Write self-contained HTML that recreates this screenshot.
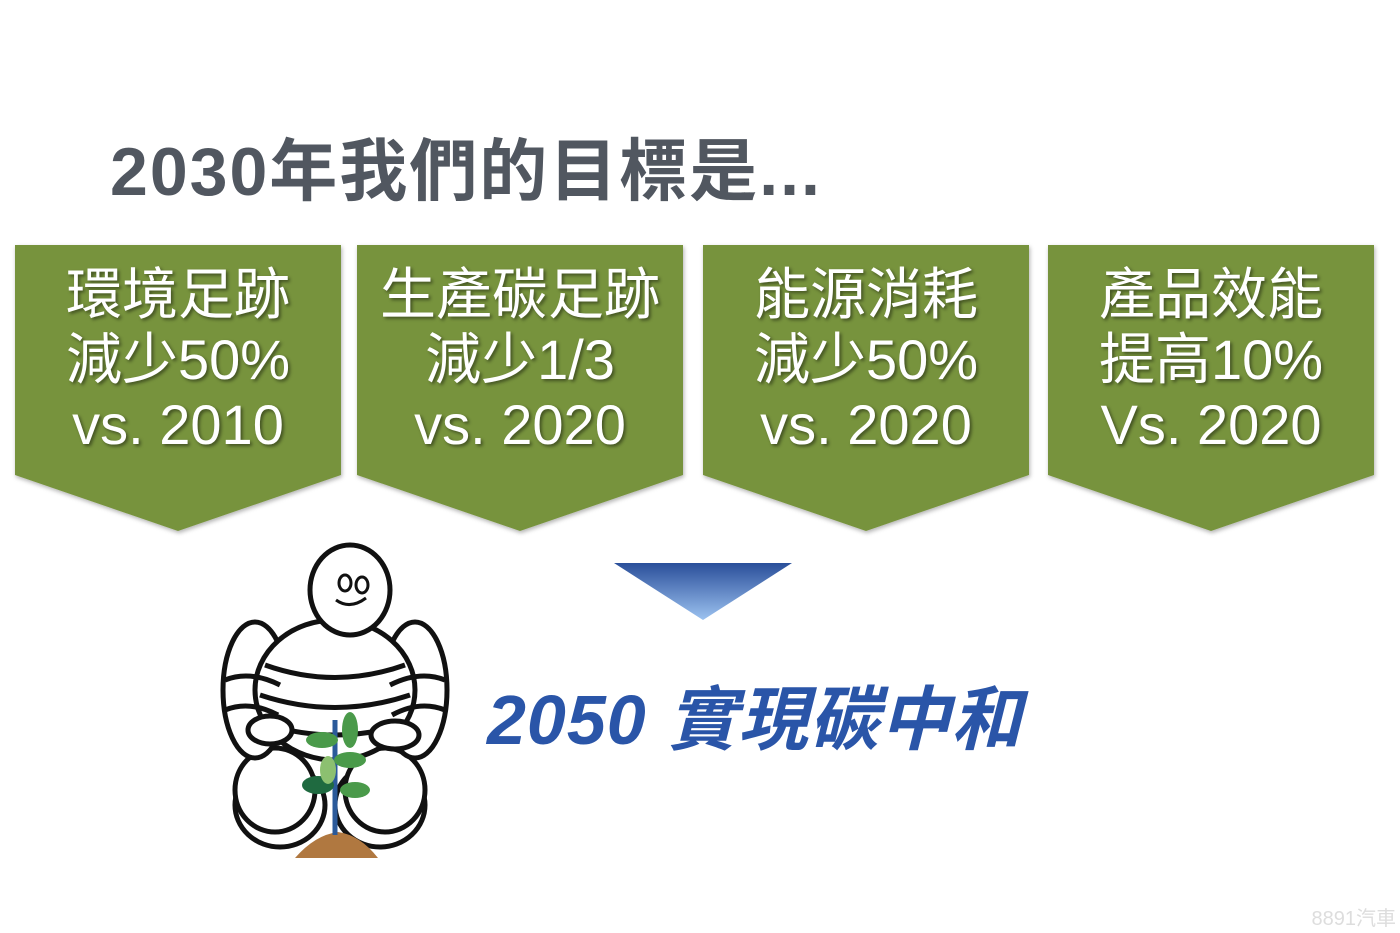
<!DOCTYPE html>
<html><head><meta charset="utf-8"><style>
body{margin:0;width:1400px;height:933px;background:#fff;position:relative;overflow:hidden;font-family:"Liberation Sans","Noto Sans CJK TC",sans-serif}
.t{position:absolute;left:110px;top:116px;font-size:68px;color:#515760;font-weight:bold;letter-spacing:2px}
.tx{position:absolute;left:0;width:326px;top:262px;text-align:center;color:#fff;font-size:56px;line-height:65px;text-shadow:2px 2px 3px rgba(0,0,0,.45)}
.g{position:absolute;left:487px;top:664px;font-size:70px;font-style:italic;font-weight:bold;color:#2a55a8;letter-spacing:1px}
.w{position:absolute;right:4px;bottom:2px;color:#ddd;font-size:20px}
</style></head><body>
<div class="t">2030年我們的目標是...</div>
<svg width="1400" height="640" style="position:absolute;left:0;top:0">
<defs><linearGradient id="bl" x1="0" y1="0" x2="0" y2="1"><stop offset="0" stop-color="#2a4f9a"/><stop offset="1" stop-color="#9cc2f0"/></linearGradient>
<filter id="sh"><feDropShadow dx="1" dy="2" stdDeviation="2" flood-opacity=".3"/></filter></defs>
<g fill="#77933c" filter="url(#sh)">
<polygon points="15,245 341,245 341,475 178,531 15,475"/>
<polygon points="357,245 683,245 683,475 520,531 357,475"/>
<polygon points="703,245 1029,245 1029,475 866,531 703,475"/>
<polygon points="1048,245 1374,245 1374,475 1211,531 1048,475"/>
</g>
<polygon points="614,563 792,563 703,620" fill="url(#bl)"/>
</svg>
<div class="tx" style="left:15px">環境足跡<br>減少50%<br>vs. 2010</div>
<div class="tx" style="left:357px">生產碳足跡<br>減少1/3<br>vs. 2020</div>
<div class="tx" style="left:703px">能源消耗<br>減少50%<br>vs. 2020</div>
<div class="tx" style="left:1048px">產品效能<br>提高10%<br>Vs. 2020</div>
<svg width="260" height="340" style="position:absolute;left:210px;top:540px" fill="#fff" stroke="#111" stroke-width="5">
<ellipse cx="70" cy="265" rx="45" ry="42"/><ellipse cx="170" cy="265" rx="45" ry="42"/>
<ellipse cx="65" cy="250" rx="40" ry="42"/><ellipse cx="175" cy="250" rx="40" ry="42"/>
<ellipse cx="45" cy="150" rx="32" ry="68"/><ellipse cx="205" cy="150" rx="32" ry="68"/>
<ellipse cx="125" cy="150" rx="80" ry="70"/>
<path d="M55 125 Q125 150 195 125 M50 155 Q125 180 200 155 M58 185 Q125 205 192 185" fill="none"/>
<path d="M15 140 Q40 130 70 145 M15 170 Q40 160 68 175" fill="none"/>
<path d="M235 140 Q210 130 180 145 M235 170 Q210 160 182 175" fill="none"/>
<ellipse cx="140" cy="50" rx="40" ry="45"/>
<ellipse cx="135" cy="43" rx="6" ry="8" stroke-width="3"/><ellipse cx="152" cy="45" rx="6" ry="8" stroke-width="3"/>
<path d="M126 60 Q140 70 156 58" fill="none" stroke-width="3"/>
<ellipse cx="60" cy="190" rx="22" ry="14"/><ellipse cx="185" cy="195" rx="24" ry="14"/>
<path d="M85 318 Q105 295 128 292 Q150 295 168 318 Z" fill="#b07840" stroke="none"/>
<path d="M125 295 L125 180" stroke="#2b5a9a" stroke-width="5"/>
<g fill="#4a9a4a" stroke="none"><ellipse cx="112" cy="200" rx="16" ry="8"/><ellipse cx="140" cy="190" rx="8" ry="18"/><ellipse cx="140" cy="220" rx="16" ry="8"/><ellipse cx="108" cy="245" rx="16" ry="9" fill="#1f6a40"/><ellipse cx="145" cy="250" rx="15" ry="8"/><ellipse cx="118" cy="230" rx="8" ry="14" fill="#8cc070"/></g>
</svg>
<div class="g">2050 實現碳中和</div>
<div class="w">8891汽車</div>
</body></html>
